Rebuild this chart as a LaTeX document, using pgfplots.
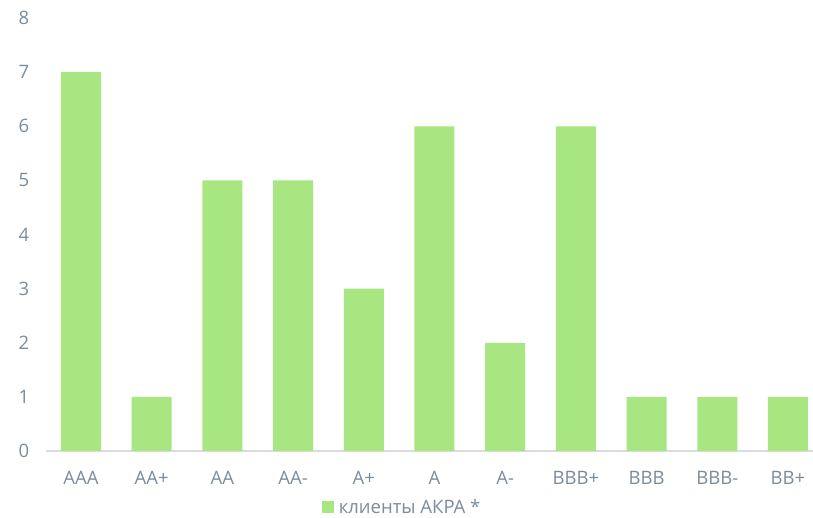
\documentclass[border=0pt]{standalone}
\usepackage{fontspec}
\setmainfont{Open Sans}
\usepackage{pgfplots}
\pgfplotsset{compat=1.18}
\definecolor{bargreen}{HTML}{A8E682}
\definecolor{ticktext}{HTML}{7C8B9C}
\definecolor{axisline}{HTML}{D9DCE1}
\begin{document}
\begin{tikzpicture}
\useasboundingbox (-45.65pt,-66pt) rectangle (767.35pt,451pt);
\begin{axis}[
    scale only axis,
    width=767.35pt,
    height=433pt,
    xmin=-0.5, xmax=10.354,
    ymin=0, ymax=8,
    ytick={0,1,...,8},
    xtick=data,
    xticklabels={AAA,AA+,AA,AA-,A+,A,A-,BBB+,BBB,BBB-,BB+},
    axis x line*=bottom,
    axis y line*=left,
    x axis line style={draw=axisline, line width=1.5pt, -},
    y axis line style={draw=none},
    major tick length=0pt,
    tick label style={font=\fontsize{18.5}{22}\selectfont, text=ticktext},
    /pgf/number format/assume math mode=true,
    xticklabel style={yshift=-17pt},
    yticklabel style={xshift=-13pt},
    clip=false,
    legend style={at={(0.36,-0.129)}, anchor=west, draw=none, fill=none,
        font=\fontsize{18.5}{22}\selectfont, text=ticktext, inner sep=0pt},
    legend image code/.code={\fill[bargreen] (0pt,-5.85pt) rectangle (11.7pt,5.85pt);
        \path (0pt,0pt) -- (14.7pt,0pt);},
]
\addplot[ybar, bar width=40pt, fill=bargreen, draw=none] coordinates {
    (0,7) (1,1) (2,5) (3,5) (4,3) (5,6) (6,2) (7,6) (8,1) (9,1) (10,1)
};
\addlegendentry{клиенты АКРА *}
\end{axis}
\end{tikzpicture}
\end{document}
